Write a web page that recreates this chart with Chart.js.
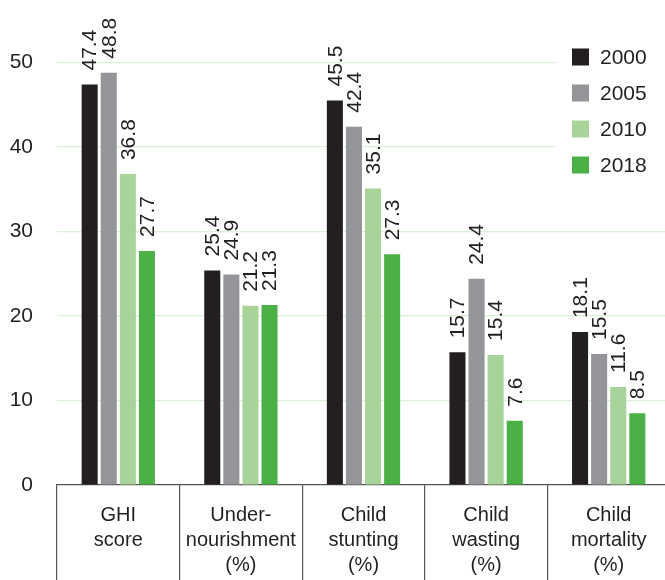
<!DOCTYPE html>
<html>
<head>
<meta charset="utf-8">
<script src="https://cdn.jsdelivr.net/npm/chart.js@4/dist/chart.umd.min.js"></script>
<style>
  html, body { margin: 0; padding: 0; background: #fff; overflow: hidden; }
  #wrap { width: 670px; height: 580px; }
</style>
</head>
<body>
<div id="wrap"><canvas id="c" width="670" height="580"></canvas></div>
<script>
// Indicators and years
const categories = [
  ["GHI", "score"],
  ["Under-", "nourishment", "(%)"],
  ["Child", "stunting", "(%)"],
  ["Child", "wasting", "(%)"],
  ["Child", "mortality", "(%)"]
];
const years = ["2000", "2005", "2010", "2018"];
const values2000 = [47.4, 25.4, 45.5, 15.7, 18.1];
const values2005 = [48.8, 24.9, 42.4, 24.4, 15.5];
const values2010 = [36.8, 21.2, 35.1, 15.4, 11.6];
const values2018 = [27.7, 21.3, 27.3, 7.6, 8.5];
const yTicks = [0, 10, 20, 30, 40, 50];

const colors = ["#231f20", "#939598", "#a8d49a", "#4bb147"];
const FONT = "'Liberation Sans', Arial, sans-serif";
const TEXT = "#231f20";

// value labels, rotated, above each bar
const valueLabels = {
  id: "valueLabels",
  afterDatasetsDraw(chart) {
    const ctx = chart.ctx;
    ctx.save();
    ctx.font = "21px " + FONT;
    ctx.fillStyle = TEXT;
    ctx.textAlign = "left";
    ctx.textBaseline = "middle";
    chart.data.datasets.forEach((ds, i) => {
      chart.getDatasetMeta(i).data.forEach((bar, j) => {
        ctx.save();
        ctx.translate(bar.x + 1, bar.y - 14);
        ctx.rotate(-Math.PI / 2);
        ctx.fillText(ds.data[j].toFixed(1), 0, 0);
        ctx.restore();
      });
    });
    ctx.restore();
  }
};

// legend in the upper right corner
const cornerLegend = {
  id: "cornerLegend",
  afterDraw(chart) {
    const ctx = chart.ctx;
    const x0 = chart.chartArea.right - 98;
    ctx.save();
    ctx.fillStyle = "#fff";
    ctx.fillRect(x0 - 16, 38, 130, 145);
    ctx.font = "21px " + FONT;
    ctx.textBaseline = "middle";
    chart.data.datasets.forEach((ds, i) => {
      const cy = 57 + i * 36;
      ctx.fillStyle = ds.backgroundColor;
      ctx.fillRect(x0, cy - 8.5, 17, 17);
      ctx.fillStyle = TEXT;
      ctx.fillText(ds.label, x0 + 28, cy + 1);
    });
    ctx.restore();
  }
};

const series = [values2000, values2005, values2010, values2018];

new Chart(document.getElementById("c"), {
  type: "bar",
  data: {
    labels: categories,
    datasets: years.map((y, i) => ({
      label: y,
      data: series[i],
      backgroundColor: colors[i],
      categoryPercentage: 0.623,
      barPercentage: 0.84
    }))
  },
  options: {
    responsive: false,
    animation: false,
    layout: { padding: 0 },
    plugins: { legend: { display: false }, tooltip: { enabled: false } },
    scales: {
      x: {
        afterFit: s => { s.height = 95; },
        border: { display: true, color: "#555", width: 1.2 },
        grid: {
          offset: true,
          drawOnChartArea: false,
          drawTicks: true,
          tickLength: 95,
          color: "#555",
          lineWidth: 1.2
        },
        ticks: {
          padding: -77,
          maxRotation: 0,
          autoSkip: false,
          color: TEXT,
          font: { family: FONT, size: 20, lineHeight: 1.25 }
        }
      },
      y: {
        min: 0,
        max: 57.4,
        afterFit: s => { s.width = 57; s.paddingTop = 0; s.paddingBottom = 0; },
        afterBuildTicks: s => { s.ticks = yTicks.map(v => ({ value: v })); },
        border: { display: false },
        grid: {
          drawTicks: false,
          color: c => (c.tick && c.tick.value === 0 ? "rgba(0,0,0,0)" : "#dcefd8"),
          lineWidth: 1.2
        },
        ticks: {
          padding: 24,
          color: TEXT,
          font: { family: FONT, size: 21 }
        }
      }
    }
  },
  plugins: [valueLabels, cornerLegend]
});
</script>
</body>
</html>
